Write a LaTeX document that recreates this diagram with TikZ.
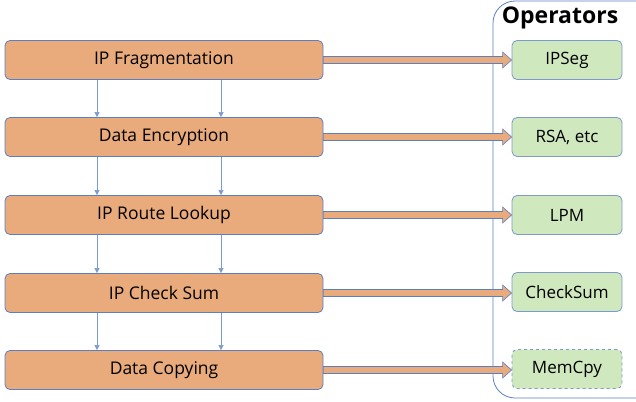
\documentclass[tikz,border=0pt]{standalone}
\usepackage{fontspec}
\setmainfont{Open Sans}
\usetikzlibrary{calc,arrows.meta}
\definecolor{stagefill}{HTML}{E9AA7C}
\definecolor{opfill}{HTML}{CFE8BE}
\definecolor{edgeblue}{HTML}{5B7FC4}
\tikzset{
  stagebox/.style={draw=edgeblue, line width=0.8pt, fill=stagefill, rounded corners=5pt,
    minimum width=318pt, minimum height=39pt, font=\fontsize{17.5}{20}\selectfont, inner sep=0pt},
  opbox/.style={draw=edgeblue!80, line width=0.8pt, fill=opfill, rounded corners=5pt,
    minimum width=110pt, minimum height=39pt, font=\fontsize{17}{20}\selectfont, inner sep=0pt},
  flow/.style={draw=edgeblue!80, line width=0.6pt, -{Triangle[length=5pt,width=5pt]}},
  fatarrow/.style={draw=edgeblue, line width=0.6pt, fill=stagefill}
}
\begin{document}
\begin{tikzpicture}[x=1pt,y=-1pt]
\useasboundingbox (0,0) rectangle (636,401);
\begin{scope}
\clip (0,0) rectangle (636,401);
% operator group frame
\draw[edgeblue, line width=0.8pt, rounded corners=22pt] (493,1) rectangle (660,398);
\end{scope}
\node[font=\bfseries\fontsize{23}{25}\selectfont, inner sep=0pt] (title) at (560,18) {Operators};

% pipeline stages
\foreach \n/\y/\t in {s1/60/IP Fragmentation, s2/137/Data Encryption, s3/215/IP Route Lookup, s4/293/IP Check Sum, s5/370/Data Copying}
  \node[stagebox] (\n) at (164,\y) {\t};

% operators
\foreach \n/\y/\t in {o1/60/IPSeg, o2/137/{RSA, etc}, o3/215/LPM, o4/292/CheckSum}
  \node[opbox] (\n) at (567,\y) {\t};
\node[opbox, dashed] (o5) at (567,369) {MemCpy};

% downward flow between stages
\foreach \a/\b in {s1/s2, s2/s3, s3/s4, s4/s5} {
  \draw[flow] ([xshift=-67pt]\a.south) -- ([xshift=-67pt]\b.north);
  \draw[flow] ([xshift=57pt]\a.south) -- ([xshift=57pt]\b.north);
}

% block arrows from stage to operator
\foreach \a/\b in {s1/o1, s2/o2, s3/o3, s4/o4, s5/o5} {
  \draw[fatarrow] let \p1=(\a.east), \p2=(\b.west) in
    (\x1,\y1+3.5pt) -- (\x2-9pt,\y1+3.5pt) -- (\x2-9pt,\y1+8pt) -- (\x2,\y1) -- (\x2-9pt,\y1-8pt)
    -- (\x2-9pt,\y1-3.5pt) -- (\x1,\y1-3.5pt) -- cycle;
}
\end{tikzpicture}
\end{document}
